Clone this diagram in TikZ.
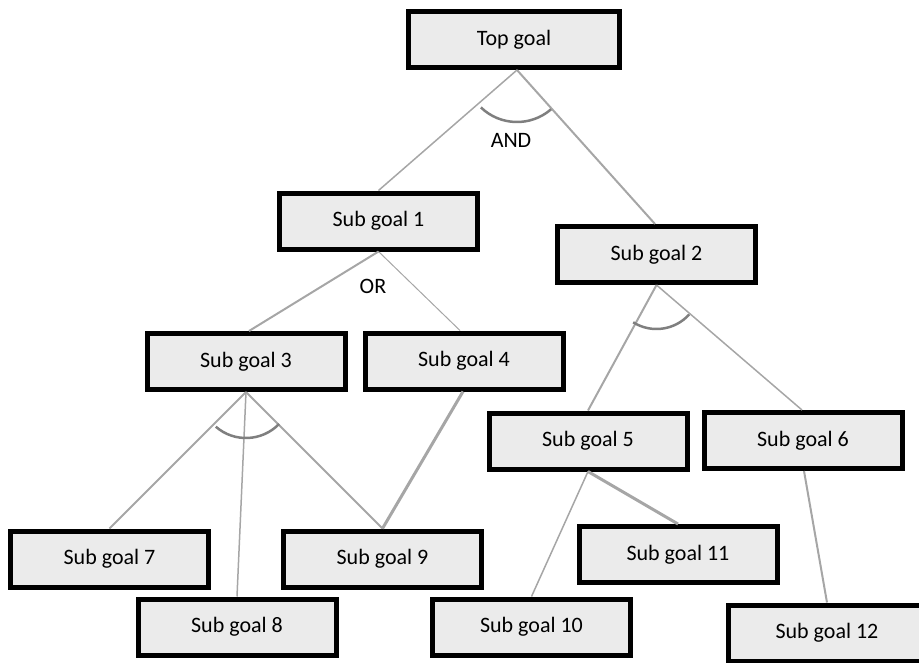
\documentclass[tikz,border=0pt]{standalone}
\usepackage{fontspec}
\setmainfont{Carlito}
\definecolor{boxgray}{HTML}{EBEBEB}
\definecolor{linegray}{HTML}{A6A6A6}
\definecolor{arcgray}{HTML}{7F7F7F}
\begin{document}
\begin{tikzpicture}[x=1pt,y=-1pt,
  goal/.style={draw=black, line width=5pt, fill=boxgray, minimum width=198pt,
    minimum height=56pt, inner sep=0pt, font=\fontsize{22}{26}\selectfont},
  link/.style={draw=linegray, line width=#1},
  link/.default=1.5pt,
  conj/.style={draw=arcgray, line width=2.5pt},
  lbl/.style={font=\fontsize{22}{26}\selectfont, inner sep=0pt}]
\useasboundingbox (0,0) rectangle (919,662);

% goal tree
\node[goal, minimum width=211pt] (top) at (514,39.5) {Top goal};
\node[goal] (g1)  at (378.5,221)  {Sub goal 1};
\node[goal] (g2)  at (656.5,254.5) {Sub goal 2};
\node[goal] (g3)  at (246,361.5)  {Sub goal 3};
\node[goal] (g4)  at (464,361)    {Sub goal 4};
\node[goal] (g5)  at (588,441)    {Sub goal 5};
\node[goal] (g6)  at (803,440.5)  {Sub goal 6};
\node[goal] (g7)  at (109.5,559)  {Sub goal 7};
\node[goal] (g8)  at (237,627)    {Sub goal 8};
\node[goal] (g9)  at (382.5,559)  {Sub goal 9};
\node[goal] (g10) at (531.5,627)  {Sub goal 10};
\node[goal] (g11) at (678,554.5)  {Sub goal 11};
\node[goal] (g12) at (827,633)    {Sub goal 12};

% decomposition links
\draw[link=1.5pt] ([xshift=3pt]top.south) -- (g1.north);
\draw[link=2pt]   ([xshift=3pt]top.south) -- ([xshift=-1.5pt]g2.north);
\draw[link=2pt]   (g1.south) -- ([xshift=3pt]g3.north);
\draw[link=1pt]   (g1.south) -- ([xshift=-4pt]g4.north);
\draw[link=2pt]   (g2.south) -- (g5.north);
\draw[link=1.5pt] (g2.south) -- ([xshift=-1pt]g6.north);
\draw[link=2pt]   (g3.south) -- (g7.north);
\draw[link=1.5pt] (g3.south) -- (g8.north);
\draw[link=2pt]   (g3.south) -- (g9.north);
\draw[link=3pt]   ([xshift=-1pt]g4.south) -- (g9.north);
\draw[link=1.5pt] (g5.south) -- (g10.north);
\draw[link=3pt]   (g5.south) -- (g11.north);
\draw[link=2pt]   ([xshift=1pt]g6.south) -- (g12.north);

% AND arcs
\draw[conj] ([xshift=3pt]top.south) ++(226:52pt) arc[start angle=226, end angle=311, radius=52pt];
\draw[conj] (g2.south) ++(238:44pt) arc[start angle=238, end angle=318, radius=44pt];
\draw[conj] (g3.south) ++(229:46pt) arc[start angle=229, end angle=316, radius=46pt];

% labels
\node[lbl] (andlbl) at (511,140) {AND};
\node[lbl] (orlbl) at (373,286) {OR};
\end{tikzpicture}
\end{document}
